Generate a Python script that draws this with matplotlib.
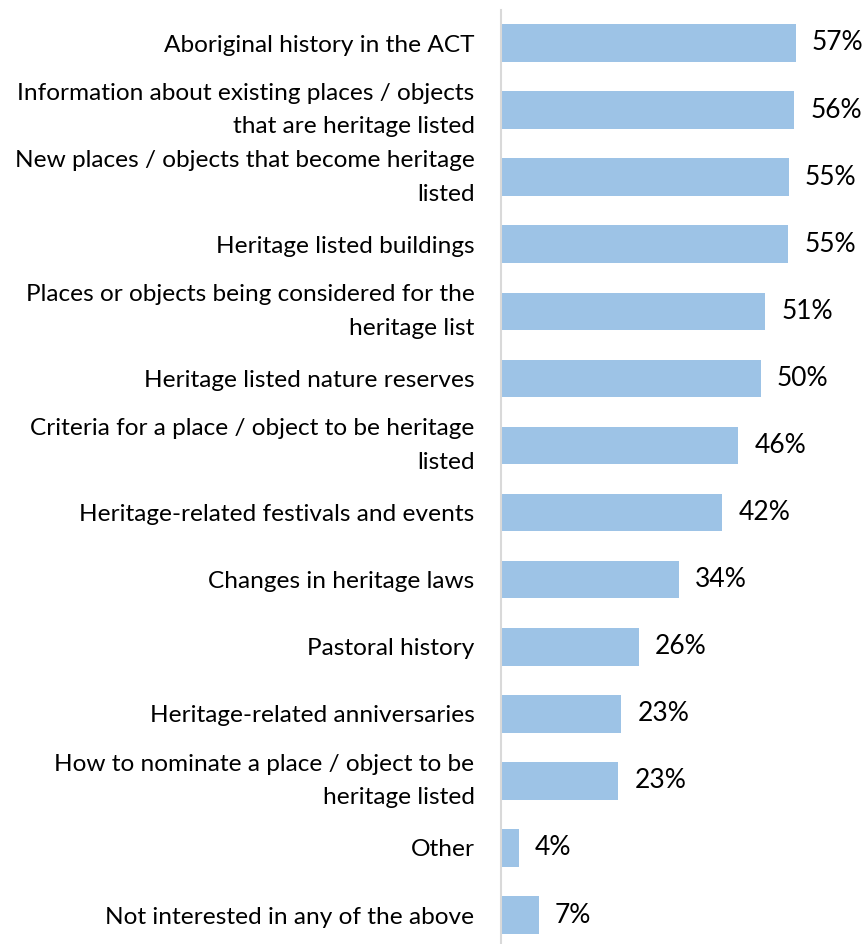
import matplotlib
matplotlib.use("Agg")
import matplotlib.pyplot as plt

categories = [
    "Aboriginal history in the ACT",
    "Information about existing places / objects\nthat are heritage listed",
    "New places / objects that become heritage\nlisted",
    "Heritage listed buildings",
    "Places or objects being considered for the\nheritage list",
    "Heritage listed nature reserves",
    "Criteria for a place / object to be heritage\nlisted",
    "Heritage-related festivals and events",
    "Changes in heritage laws",
    "Pastoral history",
    "Heritage-related anniversaries",
    "How to nominate a place / object to be\nheritage listed",
    "Other",
    "Not interested in any of the above",
]
values = [57.0, 56.7, 55.7, 55.6, 51.1, 50.3, 45.9, 42.8, 34.4, 26.6, 23.3, 22.7, 3.5, 7.3]
labels = ["57%", "56%", "55%", "55%", "51%", "50%", "46%", "42%", "34%", "26%", "23%", "23%", "4%", "7%"]

W, H = 867, 944
fig = plt.figure(figsize=(W / 100, H / 100), dpi=100)
plt.rcParams['font.family'] = ['Lato', 'DejaVu Sans']

left_px, top_px = 501, 10
ax = fig.add_axes([left_px / W, 0, (W - left_px) / W, (H - top_px) / H])

ypos = list(range(len(categories)))
ax.barh(ypos, values, height=0.56, color="#9DC3E6", edgecolor="none")

px_per_unit = 5.17
ax.set_xlim(0, (W - left_px) / px_per_unit)
ax.set_ylim((H - 43) / 67.08, -(43 - top_px) / 67.08)

fs = 17.6
fs_val = 19.0
for y, v, lab in zip(ypos, values, labels):
    ax.annotate(lab, (v, y), xytext=(11.5, 0), textcoords="offset points",
                ha="left", va="center", fontsize=fs_val, color="#000000")

ax.set_yticks(ypos)
ax.set_yticklabels(categories, fontsize=fs, color="#000000", linespacing=1.75)
for t, c in zip(ax.get_yticklabels(), categories):
    if "\n" in c:
        t.set_va("center")
ax.tick_params(axis="y", length=0, pad=19)
ax.set_xticks([])

for s in ["top", "right", "bottom"]:
    ax.spines[s].set_visible(False)
ax.spines["left"].set_color("#D9D9D9")
ax.spines["left"].set_linewidth(1.5)

fig.savefig("out.png", dpi=100)
